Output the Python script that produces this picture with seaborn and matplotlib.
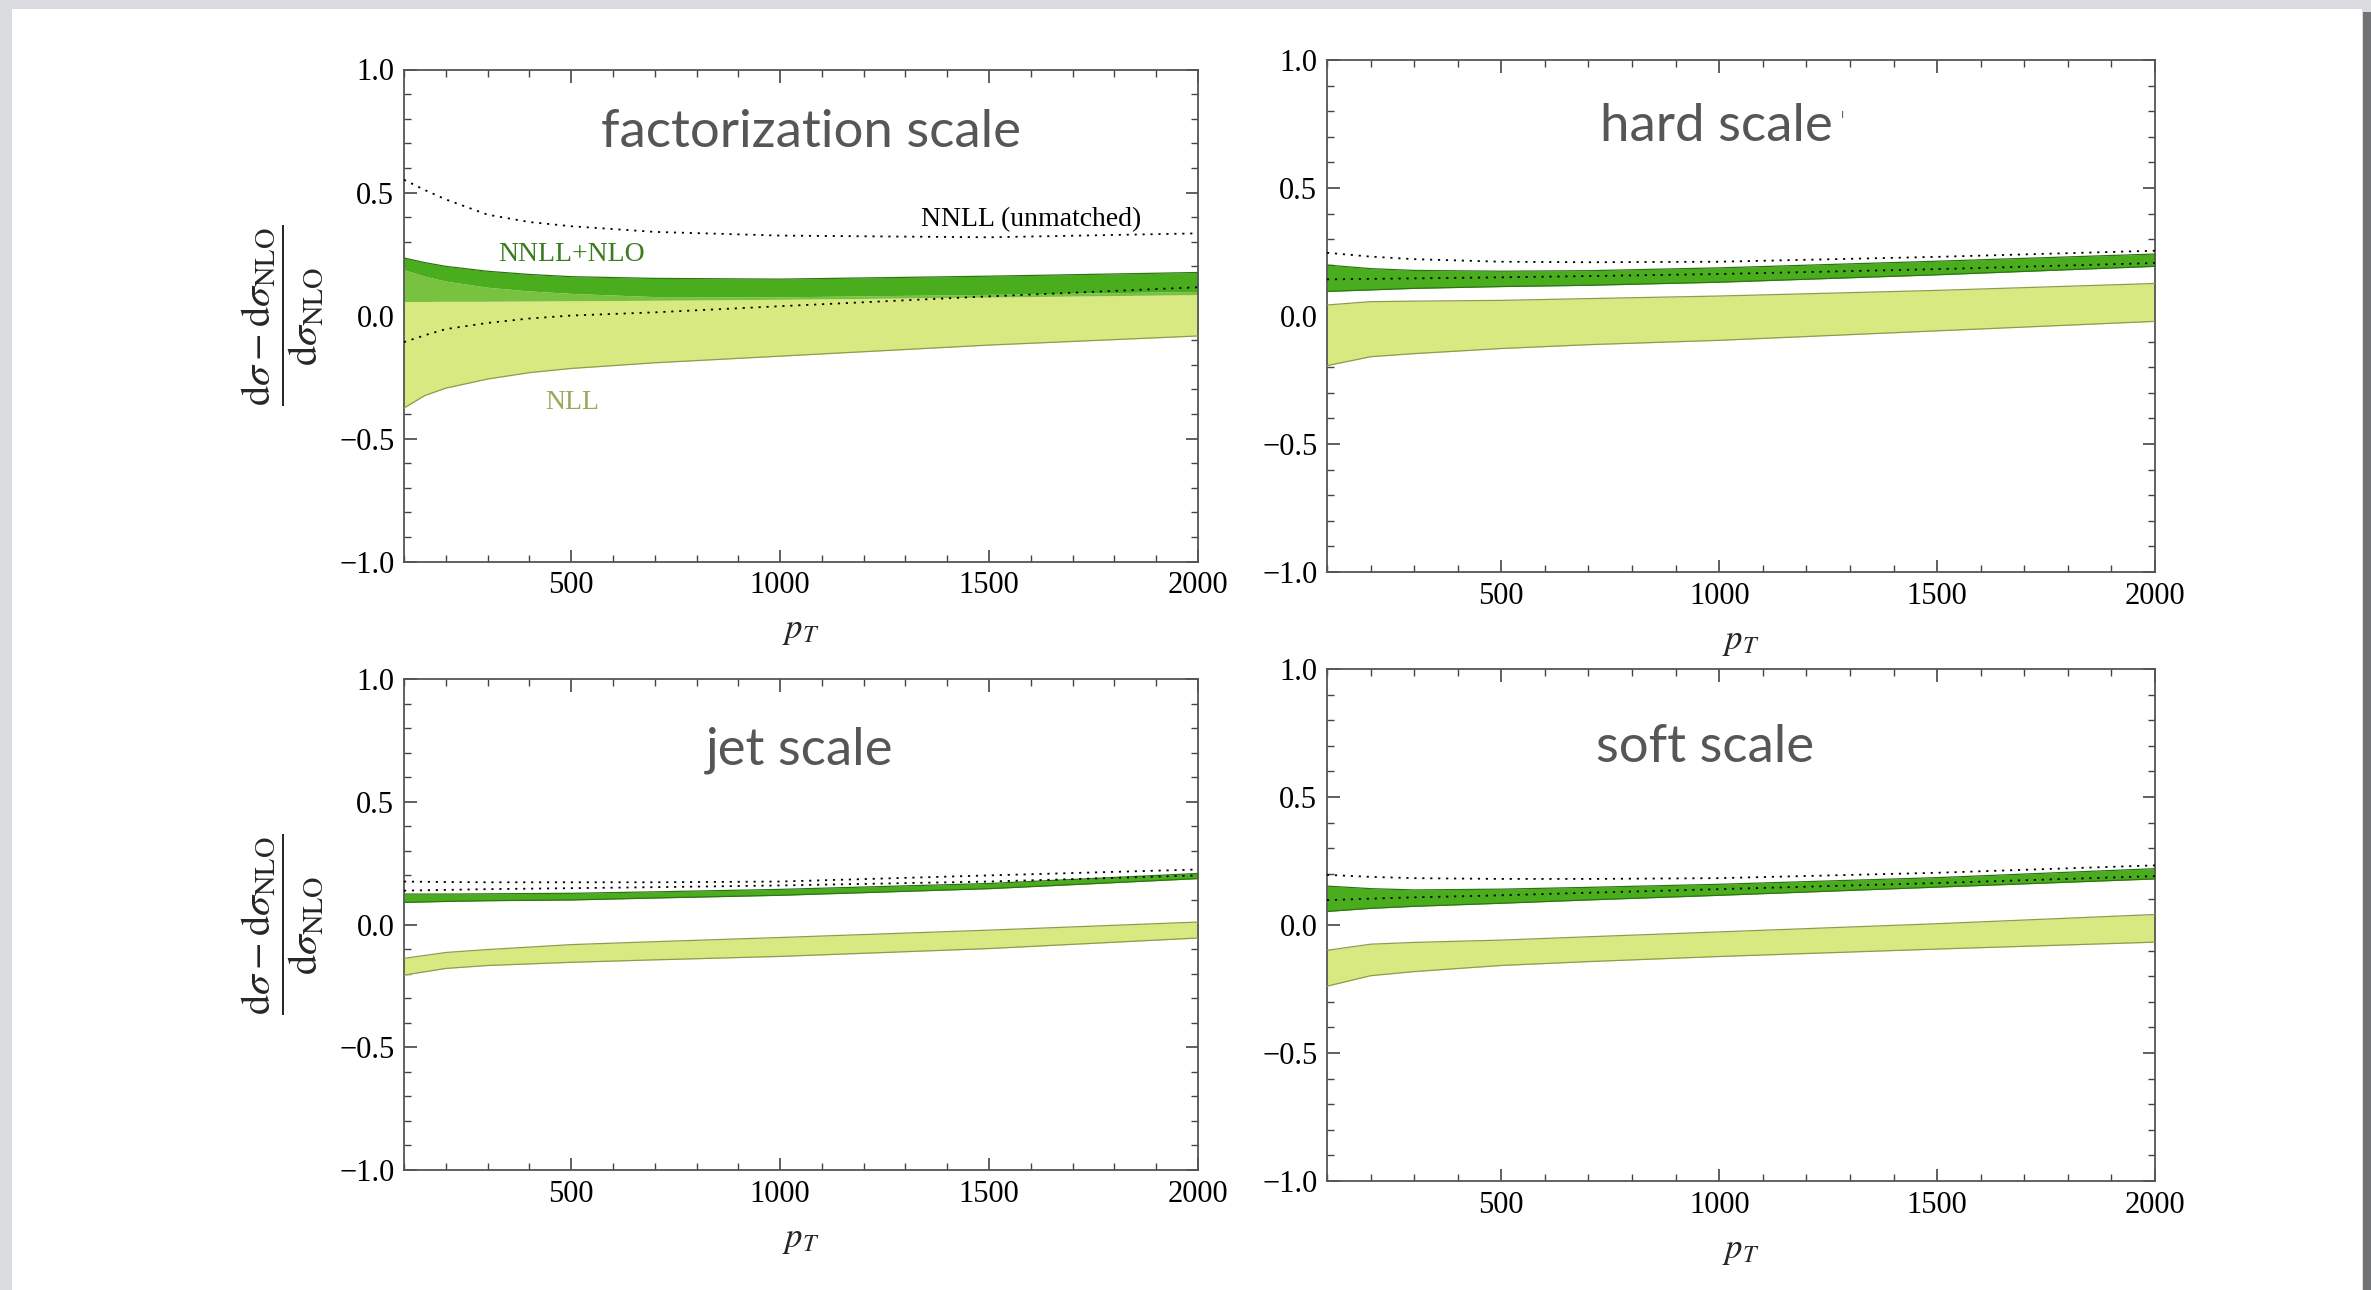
import matplotlib
matplotlib.use('Agg')
import matplotlib.pyplot as plt
import seaborn as sns
from matplotlib.patches import Rectangle
from matplotlib.ticker import MultipleLocator, FuncFormatter

# pT grid and values
x_fac = [100, 150, 200, 300, 400, 500, 700, 1000, 1500, 2000]
fac_hi = [0.234, 0.215, 0.200, 0.180, 0.167, 0.158, 0.151, 0.148, 0.160, 0.175]
fac_mid = [0.186, 0.160, 0.140, 0.115, 0.100, 0.090, 0.077, 0.076, 0.086, 0.098]
fac_nll_hi = [0.057, 0.057, 0.058, 0.058, 0.059, 0.060, 0.062, 0.066, 0.075, 0.085]
fac_nll_lo = [-0.376, -0.325, -0.295, -0.258, -0.232, -0.215, -0.192, -0.165, -0.120, -0.083]
fac_dot_hi = [0.552, 0.510, 0.472, 0.410, 0.380, 0.363, 0.340, 0.325, 0.318, 0.334]
fac_dot_lo = [-0.108, -0.080, -0.055, -0.030, -0.012, 0.000, 0.013, 0.038, 0.078, 0.115]

x_pt = [100, 200, 300, 500, 700, 1000, 1500, 2000]

hard_hi = [0.199, 0.185, 0.178, 0.175, 0.177, 0.188, 0.214, 0.242]
hard_lo = [0.096, 0.102, 0.108, 0.115, 0.120, 0.132, 0.161, 0.194]
hard_dot_hi = [0.247, 0.232, 0.222, 0.212, 0.210, 0.212, 0.231, 0.255]
hard_dot_lo = [0.143, 0.145, 0.147, 0.151, 0.156, 0.164, 0.183, 0.207]
hard_nll_hi = [0.043, 0.056, 0.058, 0.061, 0.068, 0.078, 0.100, 0.127]
hard_nll_lo = [-0.194, -0.159, -0.147, -0.127, -0.112, -0.095, -0.058, -0.021]

jet_hi = [0.124, 0.124, 0.125, 0.127, 0.133, 0.143, 0.167, 0.208]
jet_lo = [0.090, 0.094, 0.097, 0.100, 0.108, 0.119, 0.146, 0.187]
jet_dot_hi = [0.175, 0.173, 0.172, 0.172, 0.172, 0.175, 0.200, 0.224]
jet_dot_lo = [0.138, 0.141, 0.144, 0.148, 0.152, 0.159, 0.175, 0.200]
jet_nll_hi = [-0.138, -0.114, -0.102, -0.082, -0.070, -0.053, -0.023, 0.010]
jet_nll_lo = [-0.206, -0.179, -0.167, -0.154, -0.144, -0.130, -0.098, -0.055]

soft_hi = [0.152, 0.142, 0.137, 0.140, 0.147, 0.159, 0.185, 0.220]
soft_lo = [0.053, 0.065, 0.073, 0.085, 0.098, 0.116, 0.148, 0.180]
soft_dot_hi = [0.196, 0.188, 0.183, 0.180, 0.180, 0.183, 0.204, 0.233]
soft_dot_lo = [0.097, 0.103, 0.108, 0.116, 0.126, 0.140, 0.164, 0.191]
soft_nll_hi = [-0.099, -0.075, -0.068, -0.059, -0.046, -0.027, 0.005, 0.041]
soft_nll_lo = [-0.239, -0.198, -0.182, -0.158, -0.143, -0.123, -0.094, -0.067]

titles = ['factorization scale', 'hard scale', 'jet scale', 'soft scale']

DARK = '#4aad1e'
MED = '#79c23f'
YEL = '#d9e982'
YEL_EDGE = '#8e9c4c'
GRN_EDGE = '#2f7412'
DOTS = (0, (1.2, 3.2))

sns.set_theme(style='ticks')
plt.rcParams['font.family'] = ['Liberation Serif', 'DejaVu Serif']
plt.rcParams['mathtext.fontset'] = 'stix'

W, H = 2371, 1290
fig = plt.figure(figsize=(W / 100, H / 100), dpi=100)
fig.patch.set_facecolor('#d9dbde')
fig.patches.append(Rectangle((12 / W, 0), (2362 - 12) / W, (H - 9) / H,
                             transform=fig.transFigure, facecolor='white', edgecolor='none', zorder=-5))
fig.patches.append(Rectangle((2363 / W, 0), 8 / W, (H - 12) / H,
                             transform=fig.transFigure, facecolor='#707274', edgecolor='none', zorder=-5))

# axes boxes in pixels: left, right, top, bottom
boxes = [(404, 1198, 69.5, 561.6), (1327, 2155, 60, 572),
         (404, 1198, 679, 1170), (1327, 2155, 669, 1181)]
axes = []
for (l, r, t, b) in boxes:
    a = fig.add_axes([l / W, 1 - b / H, (r - l) / W, (b - t) / H])
    a.set_zorder(2)
    axes.append(a)

fmt = FuncFormatter(lambda v, p: ('%.1f' % v).replace('-', '\u2212') if abs(v) > 1e-9 else '0.0')


def band(ax, x, hi, lo, color, edge):
    ax.fill_between(x, lo, hi, color=color, lw=0, zorder=2)
    sns.lineplot(x=x, y=hi, ax=ax, color=edge, lw=0.9, zorder=3, legend=False)
    sns.lineplot(x=x, y=lo, ax=ax, color=edge, lw=0.9, zorder=3, legend=False)


def dotted(ax, x, y):
    sns.lineplot(x=x, y=y, ax=ax, color='black', lw=1.3, linestyle=DOTS, zorder=4, legend=False)


# factorization scale
ax = axes[0]
ax.fill_between(x_fac, fac_nll_lo, fac_nll_hi, color=YEL, lw=0, zorder=2)
sns.lineplot(x=x_fac, y=fac_nll_lo, ax=ax, color=YEL_EDGE, lw=0.9, zorder=3, legend=False)
ax.fill_between(x_fac, fac_nll_hi, fac_mid, color=MED, lw=0, zorder=2)
ax.fill_between(x_fac, fac_mid, fac_hi, color=DARK, lw=0, zorder=2)
sns.lineplot(x=x_fac, y=fac_hi, ax=ax, color=GRN_EDGE, lw=0.9, zorder=3, legend=False)
dotted(ax, x_fac, fac_dot_hi)
dotted(ax, x_fac, fac_dot_lo)
ax.text(1601, 0.365, 'NNLL (unmatched)', fontsize=20, ha='center', va='baseline', color='black')
ax.text(500, 0.221, 'NNLL+NLO', fontsize=20, ha='center', va='baseline', color='#3b7d1e')
ax.text(502, -0.381, 'NLL', fontsize=20, ha='center', va='baseline', color='#9ca85e')

# other scales
rest = [(hard_hi, hard_lo, hard_dot_hi, hard_dot_lo, hard_nll_hi, hard_nll_lo),
        (jet_hi, jet_lo, jet_dot_hi, jet_dot_lo, jet_nll_hi, jet_nll_lo),
        (soft_hi, soft_lo, soft_dot_hi, soft_dot_lo, soft_nll_hi, soft_nll_lo)]
for ax, (g_hi, g_lo, d_hi, d_lo, n_hi, n_lo) in zip(axes[1:], rest):
    band(ax, x_pt, n_hi, n_lo, YEL, YEL_EDGE)
    band(ax, x_pt, g_hi, g_lo, DARK, GRN_EDGE)
    dotted(ax, x_pt, d_hi)
    dotted(ax, x_pt, d_lo)

title_pos = [(1073, 0.687), (993, 0.682), (1047, 0.653), (968, 0.635)]
for i, ax in enumerate(axes):
    ax.set_xlim(100, 2000)
    ax.set_ylim(-1, 1)
    ax.set_xticks([500, 1000, 1500, 2000])
    ax.set_yticks([-1.0, -0.5, 0.0, 0.5, 1.0])
    ax.xaxis.set_minor_locator(MultipleLocator(100))
    ax.yaxis.set_minor_locator(MultipleLocator(0.1))
    ax.yaxis.set_major_formatter(fmt)
    ax.tick_params(which='both', direction='in', top=True, right=True, color='#444444',
                   labelsize=22, labelcolor='black')
    ax.tick_params(which='major', length=9, width=1.2, pad=7)
    ax.tick_params(which='minor', length=5, width=1.0)
    for s in ax.spines.values():
        s.set_color('#555555')
        s.set_linewidth(1.3)
    ax.set_xlabel(r'$p_T$', fontsize=25, labelpad=10)
    if i % 2 == 0:
        ax.set_ylabel(r'$\dfrac{\mathrm{d}\sigma-\mathrm{d}\sigma_{\mathrm{NLO}}}'
                      r'{\mathrm{d}\sigma_{\mathrm{NLO}}}$', fontsize=29, labelpad=10)
    else:
        ax.set_ylabel('')
    tx, ty = title_pos[i]
    ax.text(tx, ty, titles[i], fontsize=38, ha='center', va='baseline', color='#565656',
            family=['Lato', 'DejaVu Sans'], fontweight='normal')

axes[1].text(1284, 0.79, 'ı', fontsize=9, ha='center', va='center', color='#666666',
             family=['Lato', 'DejaVu Sans'])

fig.savefig('out.png', dpi=100, facecolor=fig.get_facecolor())
